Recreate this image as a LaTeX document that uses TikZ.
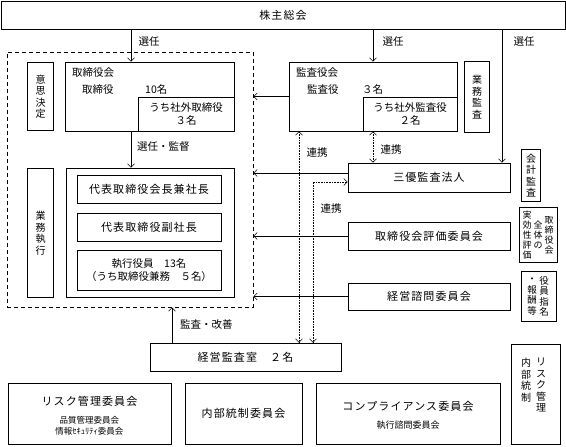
\documentclass[tikz,border=0pt]{standalone}
\usepackage{fontspec}
\setmainfont{Noto Sans CJK JP}
\newfontfamily\largo[LetterSpace=10]{Noto Sans CJK JP}
\usetikzlibrary{arrows.meta}

\begin{document}
\begin{tikzpicture}[x=1pt,y=-1pt,
        every node/.style={inner sep=0pt, font=\fontsize{10.5}{12.5}\selectfont},
        box/.style={draw, line width=0.6pt, align=center},
        wbox/.style={box, font=\largo\fontsize{11}{13}\selectfont},
        dbox/.style={draw, double, double distance=1.4pt, line width=0.5pt},
        vcol/.style={align=center, font=\fontsize{10}{11.5}\selectfont},
        arr/.style={line width=0.6pt, -{Straight Barb[length=3.5pt,width=7pt]}},
        dots/.style={line width=0.6pt, densely dotted,
            {Straight Barb[length=3.5pt,width=7pt]}-{Straight Barb[length=3.5pt,width=7pt]}}]
        \useasboundingbox (0,0) rectangle (566,447);

        % Assemblea degli azionisti
        \node[wbox, minimum width=564, minimum height=28] (gm) at (283,15) {株主総会};

        % Riquadro tratteggiato
        \node[draw, line width=0.6pt, dash pattern=on 4pt off 3pt,
            minimum width=246, minimum height=255] (frame) at (130,179.5) {};

        % Consiglio di amministrazione
        \node[dbox, vcol, minimum width=24.5, minimum height=66.5] (ishi) at (40.5,96.5) {意\\思\\決\\定};
        \node[box, minimum width=169, minimum height=69] (board) at (149.5,96.5) {};
        \node[box, minimum width=96, minimum height=34] (boardout) at (186,114) {うち社外取締役\\３名};
        \node[anchor=west] (bt1) at (72,73) {取締役会};
        \node[anchor=west] (bt2) at (82,90) {取締役};
        \node[anchor=west] (bt3) at (145,90) {10名};

        % Esecuzione
        \node[dbox, vcol, minimum width=24.5, minimum height=127.5] (gyomu) at (40.5,233) {業\\務\\執\\行};
        \node[box, minimum width=168, minimum height=129] (exec) at (150,232.5) {};
        \node[wbox, minimum width=144, minimum height=28] (ceo) at (149,189) {代表取締役会長兼社長};
        \node[wbox, minimum width=144, minimum height=28] (vp) at (149,227) {代表取締役副社長};
        \node[box, minimum width=144, minimum height=40] (officers) at (149,270) {執行役員　13名\\（うち取締役兼務　５名）};

        % Collegio sindacale
        \node[box, minimum width=168, minimum height=69] (kansa) at (373,96.5) {};
        \node[box, minimum width=94, minimum height=34] (kansaout) at (410,114) {うち社外監査役\\２名};
        \node[anchor=west] (kt1) at (296,73) {監査役会};
        \node[anchor=west] (kt2) at (307,90) {監査役};
        \node[anchor=west] (kt3) at (362,90) {３名};
        \node[dbox, vcol, minimum width=23.5, minimum height=69.5] (gkansa) at (477,97) {業\\務\\監\\査};

        % Comitati a destra
        \node[wbox, minimum width=162, minimum height=29] (sanyu) at (429,177.5) {三優監査法人};
        \node[wbox, minimum width=162, minimum height=28] (hyoka) at (429,236) {取締役会評価委員会};
        \node[wbox, minimum width=162, minimum height=27] (shimon) at (429,296.5) {経営諮問委員会};
        \node[dbox, vcol, minimum width=17.5, minimum height=50.5] (kaikei) at (531,175.5) {会\\計\\監\\査};
        \node[dbox, minimum width=36.5, minimum height=53.5] (jikko) at (538.5,235) {};
        \node[vcol, font=\fontsize{9}{10}\selectfont] (j1) at (549,235) {取\\締\\役\\会};
        \node[vcol, font=\fontsize{9}{10}\selectfont] (j2) at (538,235) {全\\体\\の};
        \node[vcol, font=\fontsize{9}{10}\selectfont] (j3) at (527,235) {実\\効\\性\\評\\価};
        \node[dbox, minimum width=33.5, minimum height=48.5] (yakuin) at (539,296.5) {};
        \node[vcol, font=\fontsize{9.5}{10.5}\selectfont] (y1) at (544,296.5) {役\\員\\指\\名};
        \node[vcol, font=\fontsize{9.5}{10.5}\selectfont] (y2) at (532,296.5) {・\\報\\酬\\等};

        % Audit interno e comitati in basso
        \node[wbox, minimum width=191, minimum height=28] (audit) at (245.5,357) {経営監査室　２名};
        \node[box, minimum width=163, minimum height=61] (risk) at (89.5,413.5) {};
        \node[font=\largo\fontsize{11}{13}\selectfont] (riskt) at (89.5,401) {リスク管理委員会};
        \node[align=center, font=\fontsize{8.5}{11}\selectfont] (risks) at (89.5,425.5) {品質管理委員会\\情報ｾｷｭﾘﾃｨ委員会};
        \node[wbox, minimum width=117, minimum height=61] (naibu) at (243.5,413.5) {内部統制委員会};
        \node[box, minimum width=184, minimum height=61] (comp) at (408,413.5) {};
        \node[font=\largo\fontsize{11}{13}\selectfont] (compt) at (408,406) {コンプライアンス委員会};
        \node[font=\fontsize{9}{11}\selectfont] (comps) at (408,425) {執行諮問委員会};
        \node[dbox, minimum width=47.5, minimum height=98.5] (rm) at (536,394.5) {};
        \node[vcol, anchor=north] (rm1) at (541,358) {リ\\ス\\ク\\管\\理};
        \node[vcol, anchor=north] (rm2) at (526,358) {内\\部\\統\\制};

        % Frecce di nomina
        \coordinate (c1) at (131,0);
        \coordinate (c2) at (373,0);
        \coordinate (c3) at (502,0);
        \coordinate (c4) at (172,0);
        \draw[arr] (gm.south -| c1) -- (board.north -| c1);
        \draw[arr] (gm.south -| c2) -- (kansa.north -| c2);
        \draw[arr] (gm.south -| c3) -- (sanyu.north -| c3);
        \node (l1) at (149,42) {選任};
        \node (l2) at (393,42) {選任};
        \node (l3) at (524,42) {選任};
        \draw[arr] (board.south -| c1) -- (exec.north -| c1);
        \node[anchor=west] (l4) at (137,147) {選任・監督};

        % Frecce verso il riquadro
        \draw[arr] (kansa.west) -- (kansa.west -| frame.east);
        \draw[arr] ([yshift=4.5pt]sanyu.west) -- ([yshift=4.5pt]sanyu.west -| frame.east);
        \draw[arr] (hyoka.west) -- (hyoka.west -| frame.east);
        \draw[arr] (shimon.west) -- (shimon.west -| frame.east);
        \draw[arr] (audit.north -| c4) -- (frame.south -| c4);
        \node[anchor=west] (l5) at (180,325) {監査・改善};

        % Collegamenti tratteggiati
        \coordinate (d1) at (299,0);
        \coordinate (d2) at (313,0);
        \draw[dots] (kansa.south -| d1) -- (audit.north -| d1);
        \draw[dots] (kansaout.south -| c2) -- (sanyu.north -| c2);
        \draw[dots] ([yshift=-4.5pt]sanyu.west) -| (audit.north -| d2);
        \node (r1) at (317,153) {連携};
        \node (r2) at (391,150) {連携};
        \node (r3) at (331,209) {連携};
\end{tikzpicture}
\end{document}
